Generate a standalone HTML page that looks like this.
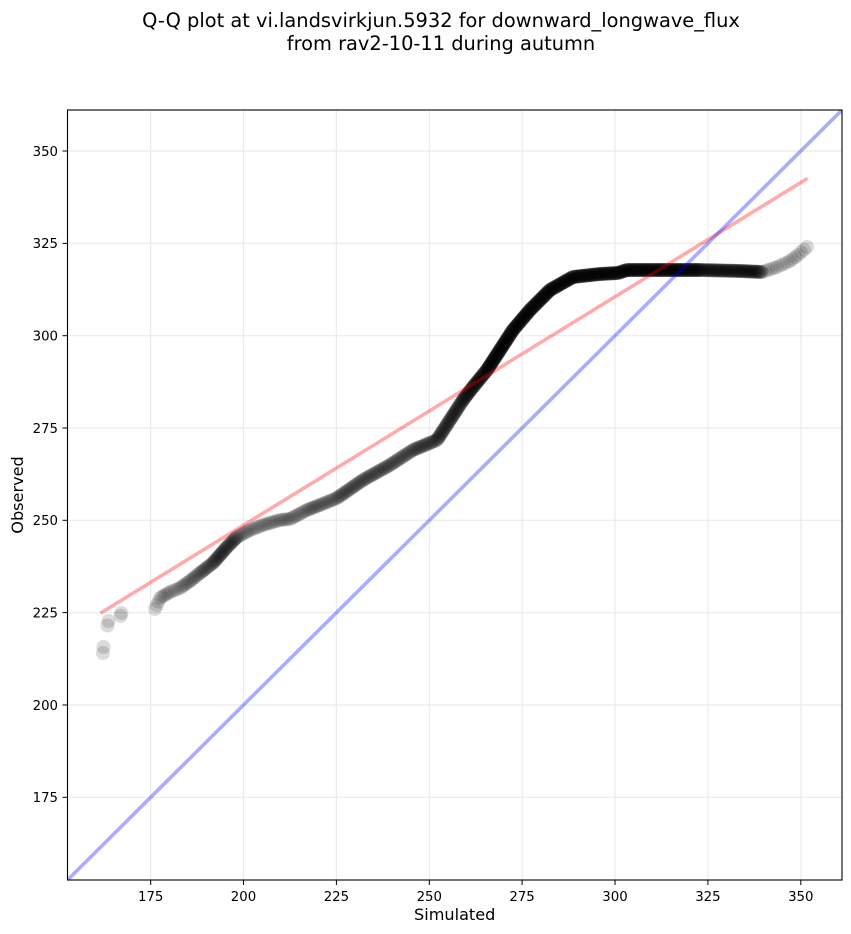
<!DOCTYPE html>
<html>
<head>
<meta charset="utf-8">
<style>
html,body{margin:0;padding:0;background:#fff;}
svg{display:block;}
text{font-family:"DejaVu Sans","Liberation Sans",sans-serif;fill:#000;}
</style>
</head>
<body>
<svg id="s" width="851" height="934" viewBox="0 0 851 934" xmlns="http://www.w3.org/2000/svg">
<rect x="0" y="0" width="851" height="934" fill="#fff"/>
<text x="441" y="27" font-size="19.4" text-anchor="middle">Q-Q plot at vi.landsvirkjun.5932 for downward_longwave_flux</text>
<text x="441" y="50" font-size="19.4" text-anchor="middle">from rav2-10-11 during autumn</text>
<defs><clipPath id="c"><rect x="67.5" y="110" width="774.5" height="770"/></clipPath></defs>
<g stroke="#ebebeb" stroke-width="1.2">
<line x1="150.7" y1="110" x2="150.7" y2="880"/>
<line x1="243.5" y1="110" x2="243.5" y2="880"/>
<line x1="336.4" y1="110" x2="336.4" y2="880"/>
<line x1="429.3" y1="110" x2="429.3" y2="880"/>
<line x1="522.1" y1="110" x2="522.1" y2="880"/>
<line x1="615" y1="110" x2="615" y2="880"/>
<line x1="707.9" y1="110" x2="707.9" y2="880"/>
<line x1="800.8" y1="110" x2="800.8" y2="880"/>
<line x1="67.5" y1="797.3" x2="842" y2="797.3"/>
<line x1="67.5" y1="705" x2="842" y2="705"/>
<line x1="67.5" y1="612.6" x2="842" y2="612.6"/>
<line x1="67.5" y1="520.3" x2="842" y2="520.3"/>
<line x1="67.5" y1="428" x2="842" y2="428"/>
<line x1="67.5" y1="335.7" x2="842" y2="335.7"/>
<line x1="67.5" y1="243.4" x2="842" y2="243.4"/>
<line x1="67.5" y1="151" x2="842" y2="151"/>
</g>
<g id="pts" clip-path="url(#c)" fill="#000" fill-opacity="0.14"></g>
<g clip-path="url(#c)">
<line x1="100.5" y1="613.2" x2="807.6" y2="178.3" stroke="#ff0000" stroke-opacity="0.33" stroke-width="3.6"/>
<line x1="67.5" y1="880" x2="842" y2="110" stroke="#0000ff" stroke-opacity="0.33" stroke-width="3.6"/>
</g>
<rect x="67.5" y="110" width="774.5" height="770" fill="none" stroke="#000" stroke-width="1.1"/>
<g stroke="#000" stroke-width="1">
<line x1="150.7" y1="880" x2="150.7" y2="885"/>
<line x1="243.5" y1="880" x2="243.5" y2="885"/>
<line x1="336.4" y1="880" x2="336.4" y2="885"/>
<line x1="429.3" y1="880" x2="429.3" y2="885"/>
<line x1="522.1" y1="880" x2="522.1" y2="885"/>
<line x1="615" y1="880" x2="615" y2="885"/>
<line x1="707.9" y1="880" x2="707.9" y2="885"/>
<line x1="800.8" y1="880" x2="800.8" y2="885"/>
<line x1="62.5" y1="797.3" x2="67.5" y2="797.3"/>
<line x1="62.5" y1="705" x2="67.5" y2="705"/>
<line x1="62.5" y1="612.6" x2="67.5" y2="612.6"/>
<line x1="62.5" y1="520.3" x2="67.5" y2="520.3"/>
<line x1="62.5" y1="428" x2="67.5" y2="428"/>
<line x1="62.5" y1="335.7" x2="67.5" y2="335.7"/>
<line x1="62.5" y1="243.4" x2="67.5" y2="243.4"/>
<line x1="62.5" y1="151" x2="67.5" y2="151"/>
</g>
<g font-size="13.3" text-anchor="middle">
<text x="150.7" y="901">175</text>
<text x="243.5" y="901">200</text>
<text x="336.4" y="901">225</text>
<text x="429.3" y="901">250</text>
<text x="522.1" y="901">275</text>
<text x="615" y="901">300</text>
<text x="707.9" y="901">325</text>
<text x="800.8" y="901">350</text>
</g>
<g font-size="13.3" text-anchor="end">
<text x="58" y="802">175</text>
<text x="58" y="710">200</text>
<text x="58" y="617.5">225</text>
<text x="58" y="525">250</text>
<text x="58" y="433">275</text>
<text x="58" y="340.5">300</text>
<text x="58" y="248">325</text>
<text x="58" y="156">350</text>
</g>
<text x="454.7" y="920" font-size="16.1" text-anchor="middle">Simulated</text>
<text transform="translate(23,495) rotate(-90)" font-size="16.1" text-anchor="middle">Observed</text>
</svg>
<script>
(function(){
var g=document.getElementById('pts');
var NS='http://www.w3.org/2000/svg';
function dot(x,y){var c=document.createElementNS(NS,'circle');c.setAttribute('cx',x.toFixed(1));c.setAttribute('cy',y.toFixed(1));c.setAttribute('r','7');g.appendChild(c);}
var out=[[103,653],[103.5,647],[107.5,625.5],[108.5,621],[120.5,616],[121.5,613]];
out.forEach(function(p){dot(p[0],p[1]);});
var P=[
[155,609,3.5],[160,598,2.5],[170,592,2.5],[180,588,2.2],[190,581,1.8],[200,573,1.5],[213,563,1.1],[227,547,1.2],
[237,537,2],[250,530,2.2],[263,525,2.2],[280,520,2.2],[290,519,2.2],[307,510,1.8],[320,505,1.8],[337,498,1.5],
[363,480,1.5],[390,465,1.5],[413,450,1.3],[437,440,1.1],[450,420,1],[463,400,0.8],[473,387,0.7],[487,370,0.6],
[500,350,0.6],[513,330,0.6],[530,310,0.6],[550,290,0.6],[573,277,0.6],[600,274,0.6],[618,273,0.6],[627,270,0.6],
[700,270,0.8],[740,271,0.8],[762,272,3.5],[777,267,4],[790,261,4],[798,255,4],[807,247,0]];
for(var i=0;i<P.length-1;i++){
 var a=P[i],b=P[i+1];var dx=b[0]-a[0],dy=b[1]-a[1];var L=Math.sqrt(dx*dx+dy*dy);
 var n=Math.max(1,Math.round(L/a[2]));
 for(var k=0;k<n;k++){var t=k/n;dot(a[0]+dx*t,a[1]+dy*t);}
}
dot(807,247);
})();
</script>
</body>
</html>
